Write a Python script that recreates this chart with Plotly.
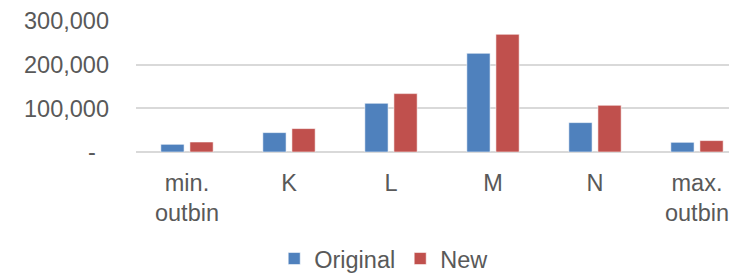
import plotly.graph_objects as go

categories = ["min.<br>outbin", "K", "L", "M", "N", "max.<br>outbin"]
original = [17600, 44400, 111500, 226000, 67300, 22200]
new = [22900, 53600, 133700, 269500, 106900, 26100]
y_tickvals = [0, 100000, 200000, 300000]
y_ticktext = ["-\u00a0\u00a0", "100,000", "200,000", "300,000"]

FONT = "Liberation Sans, Arial, sans-serif"
TXT = "#595959"
FS = 23.5

fig = go.Figure()
fig.add_trace(go.Bar(name="Original", x=categories, y=original,
                     marker=dict(color="#4F81BD", line=dict(color="rgba(255,255,255,0.55)", width=1))))
fig.add_trace(go.Bar(name="New", x=categories, y=new,
                     marker=dict(color="#C0504D", line=dict(color="rgba(255,255,255,0.55)", width=1))))

# the page body adds an 8px offset, so the figure is sized to fit the 737x273 window
fig.update_layout(
    width=729, height=265,
    margin=dict(l=128, r=0, t=12.7, b=121.3, autoexpand=False),
    paper_bgcolor="white", plot_bgcolor="white",
    barmode="group", bargap=0.43, bargroupgap=0.2,
    font=dict(family=FONT, size=FS, color=TXT),
    showlegend=True,
    legend=dict(orientation="h", x=0.413, xanchor="center", y=-0.815, yanchor="middle",
                font=dict(family=FONT, size=FS, color=TXT), bgcolor="rgba(0,0,0,0)",
                traceorder="normal"),
)
fig.update_xaxes(type="category", range=[-0.5, -0.5 + 601 / 102], showgrid=False,
                 showline=False, ticks="", tickfont=dict(family=FONT, size=FS, color=TXT),
                 ticklabelstandoff=14, automargin=False)
fig.update_yaxes(range=[0, 300000], tickvals=y_tickvals, ticktext=y_ticktext,
                 showgrid=True, gridcolor="#D9D9D9", gridwidth=2,
                 zeroline=True, zerolinecolor="#D9D9D9", zerolinewidth=2,
                 showline=False, ticks="", tickfont=dict(family=FONT, size=FS, color=TXT),
                 ticklabelstandoff=26, automargin=False)

fig.write_html("out.html")
